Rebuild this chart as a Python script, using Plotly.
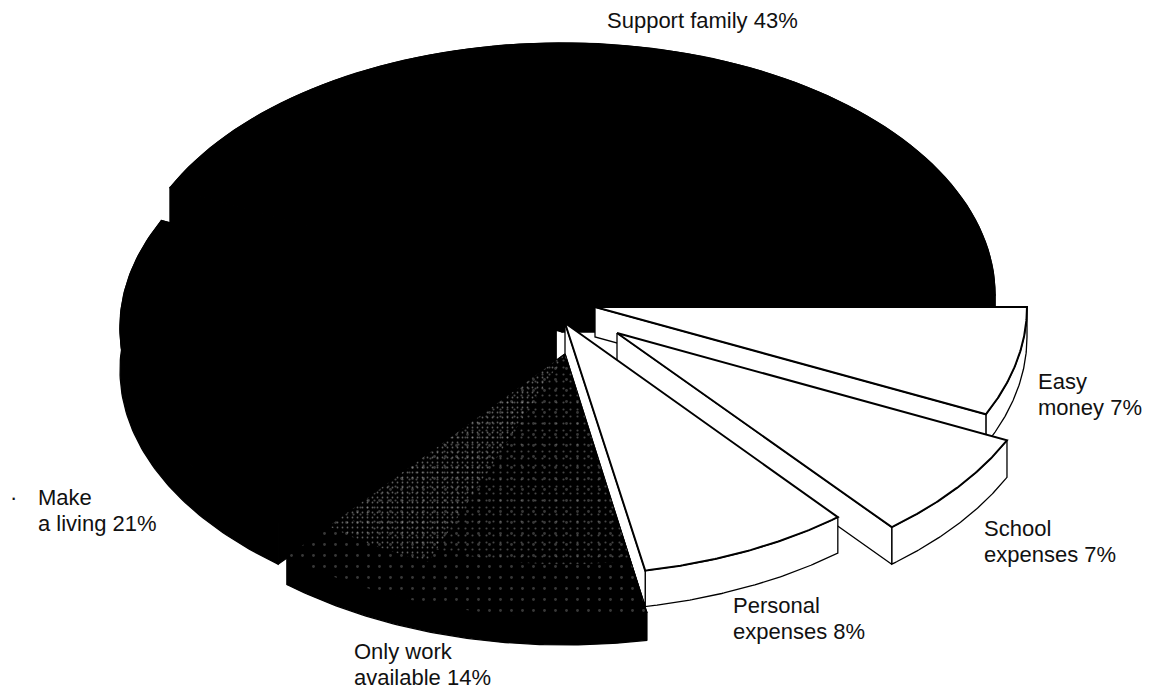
import numpy as np
import plotly.graph_objects as go

# Shares of the pie, counter-clockwise from the 3 o'clock position
categories = ["Support family", "Make a living", "Only work available",
              "Personal expenses", "School expenses", "Easy money"]
values = [43, 21, 14, 8, 7, 7]

# Printed label lines for each slice
label_lines = [["Support family {}%"], ["Make", "a living {}%"], ["Only work", "available {}%"],
               ["Personal", "expenses {}%"], ["School", "expenses {}%"], ["Easy", "money {}%"]]

# Exploded-pie geometry per slice: hub x, hub y, x radius, y radius, extrusion depth
hub_x = [562, 556, 565, 565, 617, 595]
hub_y = [295, 328, 354, 323, 333, 307]
radius_x = [433, 436, 436, 428, 431, 432]
radius_y = [252, 252, 263, 252, 252, 252]
depth = [37, 42, 28, 36, 37, 30]

# Label anchors: left edge, first-line centre
label_x = [607, 38, 354, 733, 984, 1038]
label_y = [20, 497, 651, 605, 528, 381]
LINE_STEP = 26.5
FONT = "Liberation Sans, Arial, sans-serif"

INK = "#000000"
PAPER = "#ffffff"
draw_order = [0, 1, 5, 4, 3, 2]


def arc(i, a0, a1, scale=1.0):
    t = np.radians(np.linspace(a0, a1, 90))
    x = hub_x[i] + scale * radius_x[i] * np.cos(t)
    y = hub_y[i] - scale * radius_y[i] * np.sin(t)
    return x, y


def poly(fig, x, y, fill, width=1.5, pattern=None):
    kw = {"fillpattern": pattern} if pattern else {}
    fig.add_trace(go.Scatter(
        x=list(x) + [x[0]], y=list(y) + [y[0]], mode="lines", fill="toself",
        fillcolor=fill, line=dict(color=INK, width=width),
        hoverinfo="skip", showlegend=False, **kw))


def screen(fig, i, a0, a1, scale, size, solidity, grey):
    # Halftone dots over part of a slice's top face
    sx, sy = arc(i, a0, a1, scale)
    poly(fig, np.r_[hub_x[i], sx], np.r_[hub_y[i], sy], "rgba(0,0,0,0)", 0,
         dict(shape=".", size=size, solidity=solidity, fgcolor=grey, bgcolor="rgba(0,0,0,0)"))


edges = np.concatenate([[0], np.cumsum(values)]) * 360.0 / sum(values)
fig = go.Figure()

for i in draw_order:
    a0, a1 = edges[i], edges[i + 1]
    dark = i < 3
    fill = INK if dark else PAPER
    d = depth[i]
    ax, ay = arc(i, a0, a1)

    # Rim of the slice, its radial walls, then the top face
    poly(fig, np.r_[ax, ax[::-1]], np.r_[ay, ay[::-1] + d], fill, 1.3)
    poly(fig, [hub_x[i], ax[0], ax[0], hub_x[i]],
         [hub_y[i], ay[0], ay[0] + d, hub_y[i] + d], fill, 1.3)
    if dark:
        poly(fig, [hub_x[i], ax[-1], ax[-1], hub_x[i]],
             [hub_y[i], ay[-1], ay[-1] + d, hub_y[i] + d], fill, 1.3)
    poly(fig, np.r_[hub_x[i], ax], np.r_[hub_y[i], ay], fill, 1.5 if dark else 2)

    # The "only work" slice carries a sparse screen that thickens along its upper edge
    if categories[i] == "Only work available":
        screen(fig, i, a0, a1, 1.0, 11, 0.05, "#6f6f6f")
        screen(fig, i, a0, a1, 0.8, 7, 0.07, "#8c8c8c")
        screen(fig, i, a0, a0 + 18, 0.85, 5, 0.1, "#bdbdbd")

annotations = []
for lines, value, lx, ly in zip(label_lines, values, label_x, label_y):
    for n, text in enumerate(lines):
        annotations.append(dict(
            x=lx, y=ly + n * LINE_STEP, xref="x", yref="y", text=text.format(value),
            showarrow=False, xanchor="left", yanchor="middle", xshift=-2,
            font=dict(family=FONT, size=22, color="#111111")))
annotations.append(dict(x=13, y=497, xref="x", yref="y", text="·", showarrow=False,
                        font=dict(family=FONT, size=22, color="#111111")))

fig.update_layout(
    width=1153, height=691, margin=dict(l=0, r=0, t=0, b=0),
    paper_bgcolor=PAPER, plot_bgcolor=PAPER, showlegend=False,
    xaxis=dict(range=[0, 1153], visible=False, fixedrange=True),
    yaxis=dict(range=[691, 0], visible=False, fixedrange=True),
    annotations=annotations)

fig.write_html("out.html", config=dict(displayModeBar=False))
